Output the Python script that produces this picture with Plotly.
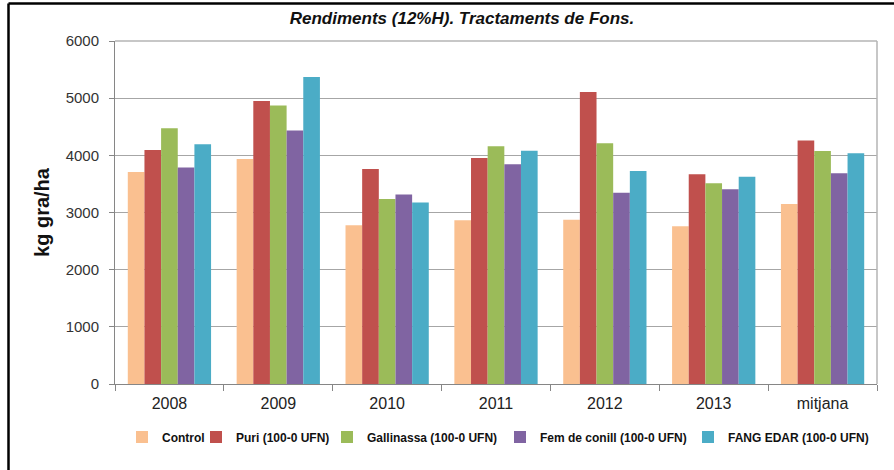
import plotly.graph_objects as go

categories = ["2008", "2009", "2010", "2011", "2012", "2013", "mitjana"]
series_names = ["Control", "Puri (100-0 UFN)", "Gallinassa (100-0 UFN)",
                "Fem de conill (100-0 UFN)", "FANG EDAR (100-0 UFN)"]
control = [3710, 3935, 2775, 2865, 2875, 2760, 3150]
puri = [4095, 4950, 3760, 3955, 5110, 3670, 4260]
gallinassa = [4475, 4870, 3235, 4160, 4210, 3510, 4075]
fem_conill = [3785, 4435, 3315, 3845, 3345, 3405, 3685]
fang_edar = [4195, 5370, 3175, 4080, 3725, 3625, 4035]
colors = ["#FAC090", "#C0504D", "#9BBB59", "#8064A2", "#4BACC6"]
y_ticks = [0, 1000, 2000, 3000, 4000, 5000, 6000]

W, H = 894, 470
legend_ids = ["legend", "legend2", "legend3", "legend4", "legend5"]
legend_text_x = [162, 236, 367, 540, 728]   # px where each legend label starts

fig = go.Figure()
for name, vals, col, lid in zip(series_names,
                                [control, puri, gallinassa, fem_conill, fang_edar],
                                colors, legend_ids):
    fig.add_trace(go.Bar(x=categories, y=vals, name=name, legend=lid,
                         marker=dict(color=col, line=dict(width=0))))

legend_font = dict(size=12, color="#111", family="Arial, Liberation Sans, sans-serif",
                   weight="bold")
legends = {}
for lid, tx in zip(legend_ids, legend_text_x):
    legends[lid] = dict(orientation="h", x=(tx - 40) / W, xanchor="left", xref="container",
                        y=1 - 437 / H, yref="container", yanchor="middle",
                        font=legend_font, bgcolor="rgba(0,0,0,0)",
                        itemwidth=30, itemclick=False, itemdoubleclick=False)

pl, pr, pt, pb = 115, 877, 41, 384
pw, ph = pr - pl, pb - pt

fig.update_layout(
    width=W, height=H,
    margin=dict(l=pl, r=W - pr, t=pt, b=H - pb, autoexpand=False),
    paper_bgcolor="white", plot_bgcolor="white",
    barmode="group", bargap=0.235, bargroupgap=0,
    font=dict(family="Arial, Liberation Sans, sans-serif", color="#222"),
    title=dict(text="<b><i>Rendiments (12%H). Tractaments de Fons.</i></b>",
               x=462 / W, xref="container", xanchor="center",
               y=1 - 18 / H, yref="container", yanchor="middle",
               font=dict(size=17, color="#111")),
    showlegend=True,
    xaxis=dict(showline=True, linecolor="#868686", linewidth=1,
               ticks="outside", ticklen=6, tickcolor="#868686",
               tickson="boundaries", ticklabelstandoff=5,
               tickfont=dict(size=16, color="#222"),
               showgrid=False, fixedrange=True),
    yaxis=dict(range=[0, 6000], tickvals=y_ticks,
               showline=True, linecolor="#868686", linewidth=1,
               ticks="outside", ticklen=5, tickcolor="#868686",
               ticklabelstandoff=7,
               tickfont=dict(size=15, color="#333"),
               showgrid=True, gridcolor="#a6a6a6", gridwidth=1,
               zeroline=False,
               title=dict(text="<b>kg gra/ha</b>", font=dict(size=20, color="#111"),
                          standoff=10),
               fixedrange=True),
    shapes=[
        dict(type="line", xref="paper", yref="paper", x0=0, x1=1, y0=1, y1=1,
             line=dict(color="#b5b5b5", width=1.5)),
        dict(type="line", xref="paper", yref="paper", x0=1, x1=1, y0=0, y1=1,
             line=dict(color="#b5b5b5", width=1.5)),
        dict(type="line", xref="paper", yref="paper",
             x0=(8.5 - pl) / pw, x1=(W + 10 - pl) / pw,
             y0=1 + (pt - 3.5) / ph, y1=1 + (pt - 3.5) / ph,
             line=dict(color="#000", width=2.5)),
        dict(type="line", xref="paper", yref="paper",
             x0=(8.5 - pl) / pw, x1=(8.5 - pl) / pw,
             y0=1 + (pt - 3.5) / ph, y1=-(H + 10 - pb) / ph,
             line=dict(color="#000", width=2.5)),
    ],
    **legends,
)

fig.write_html("out.html", config={"displayModeBar": False},
               post_script="document.body.style.margin='0';document.body.style.overflow='hidden';")
